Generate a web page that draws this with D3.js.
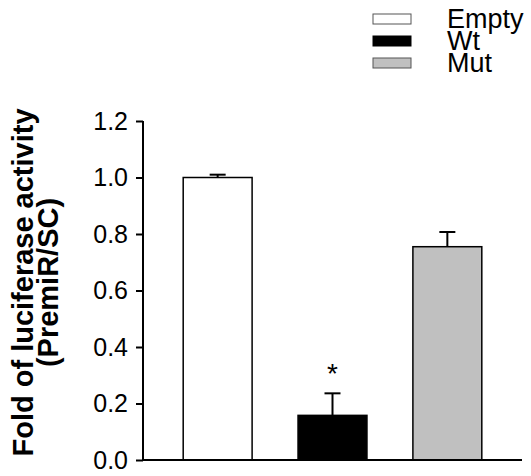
<!DOCTYPE html>
<html>
<head>
<meta charset="utf-8">
<script src="https://cdn.jsdelivr.net/npm/d3@7"></script>
<style>
  body { margin: 0; background: #fff; }
  text { font-family: Arial, "Liberation Sans", sans-serif; }
</style>
</head>
<body>
<div id="viz"></div>
<script>
const width = 531;
const height = 476;
const margin = { top: 121, right: 9, bottom: 16, left: 143 };

// data
const groups = ['Empty', 'Wt', 'Mut'];
const values = [1.0, 0.158, 0.755];
const errors = [0.01, 0.078, 0.052];
const fills = ['#ffffff', '#000000', '#c0c0c0'];
const yTicks = [0.0, 0.2, 0.4, 0.6, 0.8, 1.0, 1.2];
const significance = ['', '*', ''];

const innerW = width - margin.left - margin.right;
const innerH = height - margin.top - margin.bottom;

const svg = d3.select('#viz').append('svg')
  .attr('width', width)
  .attr('height', height);

const chart = svg.append('g')
  .attr('transform', `translate(${margin.left}, ${margin.top})`);

const x = d3.scaleBand()
  .domain(groups)
  .range([0, innerW])
  .paddingInner(0.4)
  .paddingOuter(0.35);

const y = d3.scaleLinear()
  .domain([0, 1.2])
  .range([innerH, 0]);

const color = d3.scaleOrdinal().domain(groups).range(fills);

// error bars (drawn first so bar outline sits on top)
const eb = chart.selectAll('.err')
  .data(groups)
  .enter().append('g')
  .attr('class', 'err');

eb.append('line')
  .attr('x1', d => x(d) + x.bandwidth() / 2)
  .attr('x2', d => x(d) + x.bandwidth() / 2)
  .attr('y1', (d, i) => y(values[i]))
  .attr('y2', (d, i) => y(values[i] + errors[i]))
  .attr('stroke', '#000')
  .attr('stroke-width', 2);

eb.append('line')
  .attr('x1', d => x(d) + x.bandwidth() / 2 - 8)
  .attr('x2', d => x(d) + x.bandwidth() / 2 + 8)
  .attr('y1', (d, i) => y(values[i] + errors[i]))
  .attr('y2', (d, i) => y(values[i] + errors[i]))
  .attr('stroke', '#000')
  .attr('stroke-width', 2);

chart.selectAll('.bar')
  .data(groups)
  .enter().append('rect')
  .attr('class', 'bar')
  .attr('x', d => x(d))
  .attr('y', (d, i) => y(values[i]))
  .attr('width', x.bandwidth())
  .attr('height', (d, i) => innerH - y(values[i]))
  .attr('fill', d => color(d))
  .attr('stroke', '#000')
  .attr('stroke-width', 1.5);

// significance marks
chart.selectAll('.sig')
  .data(groups)
  .enter().append('text')
  .attr('class', 'sig')
  .attr('x', d => x(d) + x.bandwidth() / 2)
  .attr('y', (d, i) => y(values[i] + errors[i]) - 10)
  .attr('text-anchor', 'middle')
  .style('font-size', '28px')
  .text((d, i) => significance[i]);

// y axis
const yaxis = chart.append('g')
  .call(d3.axisLeft(y).tickValues(yTicks).tickSize(7).tickPadding(8)
    .tickFormat(d3.format('.1f')));
yaxis.select('.domain').attr('stroke-width', 2).attr('d', `M0,0V${innerH}`);
yaxis.selectAll('.tick line').attr('stroke-width', 2);
yaxis.selectAll('.tick text')
  .style('font-size', '25px')
  .attr('fill', '#000')
  .style('font-family', 'Arial, "Liberation Sans", sans-serif');

// x axis baseline
chart.append('line')
  .attr('x1', 0)
  .attr('x2', innerW)
  .attr('y1', innerH)
  .attr('y2', innerH)
  .attr('stroke', '#000')
  .attr('stroke-width', 2);

// y title
const ytitle = svg.append('text')
  .attr('transform', `translate(33, ${margin.top + innerH / 2 - 8}) rotate(-90)`)
  .attr('text-anchor', 'middle')
  .style('font-size', '29px')
  .style('font-weight', 700);
ytitle.append('tspan').attr('x', 0).attr('dy', 0).text('Fold of luciferase activity');
ytitle.append('tspan').attr('x', 0).attr('dy', 25).text('(PremiR/SC)');

// legend
const legend = svg.selectAll('.legend')
  .data(groups)
  .enter().append('g')
  .attr('class', 'legend')
  .attr('transform', (d, i) => `translate(373, ${14 + i * 22})`);

legend.append('rect')
  .attr('width', 38)
  .attr('height', 10)
  .attr('fill', d => color(d))
  .attr('stroke', d => d === 'Wt' ? '#000' : '#555')
  .attr('stroke-width', 1);

legend.append('text')
  .attr('x', 74)
  .attr('y', 5)
  .attr('dy', '0.35em')
  .style('font-size', '27px')
  .text(d => d);
</script>
</body>
</html>
